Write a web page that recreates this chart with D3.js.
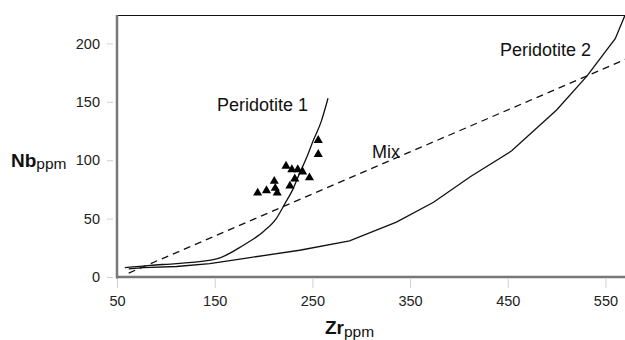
<!DOCTYPE html>
<html>
<head>
<meta charset="utf-8">
<script src="https://cdn.jsdelivr.net/npm/d3@7"></script>
<style>
  body { margin: 0; background: #fff; }
  text { font-family: Arial, "Liberation Sans", sans-serif; }
</style>
</head>
<body>
<svg id="chart"></svg>
<script>
// readings
const xTicks = [50, 150, 250, 350, 450, 550];
const yTicks = [0, 50, 100, 150, 200];

const peridotite1 = [
  [58, 8], [84, 10], [111, 11.5], [152, 15.5], [179, 27], [200, 39],
  [213, 50], [222, 63], [230, 75], [236, 87], [244, 102], [251, 117],
  [259, 133], [266, 153]
];
const peridotite2 = [
  [62, 7], [77, 8], [111, 9], [145, 11.5], [186, 16.6], [237, 22.9],
  [288, 31], [336, 47], [374, 64], [412, 86], [454, 108], [500, 143],
  [531, 172], [560, 204], [570, 224]
];
const mixLine = [[62, 3.4], [575, 188]];

const samples = [
  [194, 72], [203, 74], [211, 82], [212, 76], [214, 72], [223, 95],
  [229, 92], [235, 92], [232, 84], [227, 78], [240, 90], [247, 85],
  [256, 117], [256, 105]
];

const labels = [
  { text: "Peridotite 1", x: 217, y: 111 },
  { text: "Peridotite 2", x: 500, y: 56 },
  { text: "Mix", x: 372, y: 158 }
];

const W = 625, H = 340;
const margin = { top: 15, right: 0, bottom: 63, left: 117 };
const width = W - margin.left - margin.right;
const height = H - margin.top - margin.bottom;

const svg = d3.select("#chart").attr("width", W).attr("height", H);

const x = d3.scaleLinear().domain([50, 570]).range([margin.left, margin.left + width]);
const y = d3.scaleLinear().domain([0, 224.3]).range([margin.top + height, margin.top]);

svg.append("defs").append("clipPath").attr("id", "plot")
  .append("rect")
  .attr("x", margin.left).attr("y", margin.top)
  .attr("width", width).attr("height", height);

// tick marks sit outside the box, light grey
const xAxis = svg.append("g")
  .attr("transform", `translate(0,${margin.top + height + 2})`)
  .call(d3.axisBottom(x).tickValues(xTicks).tickSize(9).tickPadding(8).tickFormat(d3.format("d")));
const yAxis = svg.append("g")
  .attr("transform", `translate(${margin.left - 4},0)`)
  .call(d3.axisLeft(y).tickValues(yTicks).tickSize(6).tickPadding(7).tickFormat(d3.format("d")));

[xAxis, yAxis].forEach(a => {
  a.select(".domain").remove();
  a.selectAll(".tick line").attr("stroke", "#d0d0d0");
  a.selectAll(".tick text")
    .attr("fill", "#222")
    .style("font-size", "14.5px")
    .style("font-family", "Arial, 'Liberation Sans', sans-serif");
});

// frame
svg.append("line")
  .attr("x1", margin.left).attr("x2", W)
  .attr("y1", margin.top + 0.5).attr("y2", margin.top + 0.5)
  .attr("stroke", "#111").attr("stroke-width", 1.2);
svg.append("line")
  .attr("x1", margin.left).attr("x2", margin.left)
  .attr("y1", margin.top).attr("y2", margin.top + height + 1.5)
  .attr("stroke", "#777").attr("stroke-width", 2.5);
svg.append("line")
  .attr("x1", margin.left - 1).attr("x2", W)
  .attr("y1", margin.top + height).attr("y2", margin.top + height)
  .attr("stroke", "#777").attr("stroke-width", 2.5);

const straight = d3.line().x(d => x(d[0])).y(d => y(d[1]));
const smooth = d3.line().x(d => x(d[0])).y(d => y(d[1])).curve(d3.curveMonotoneX);
const plot = svg.append("g").attr("clip-path", "url(#plot)");

plot.append("path").datum(peridotite1)
  .attr("d", smooth)
  .attr("fill", "none").attr("stroke", "#111").attr("stroke-width", 1.3);
plot.append("path").datum(peridotite2)
  .attr("d", straight)
  .attr("fill", "none").attr("stroke", "#111").attr("stroke-width", 1.3);
plot.append("path").datum(mixLine)
  .attr("d", straight)
  .attr("fill", "none").attr("stroke", "#111").attr("stroke-width", 1.3)
  .attr("stroke-dasharray", "7,5");

plot.selectAll(".pt").data(samples).join("path")
  .attr("class", "pt")
  .attr("transform", d => `translate(${x(d[0])},${y(d[1])})`)
  .attr("d", d3.symbol(d3.symbolTriangle, 36))
  .attr("fill", "#000");

svg.selectAll(".lbl").data(labels).join("text")
  .attr("class", "lbl")
  .attr("x", d => d.x).attr("y", d => d.y)
  .attr("fill", "#111")
  .style("font-size", "18px")
  .text(d => d.text);

// axis titles with subscript
const yt = svg.append("text").attr("x", 11).attr("y", 167).attr("fill", "#111");
yt.append("tspan").style("font-size", "19px").style("font-weight", "bold").text("Nb");
yt.append("tspan").attr("dy", 2).style("font-size", "15.5px").text("ppm");

const xt = svg.append("text").attr("x", 325).attr("y", 334).attr("fill", "#111");
xt.append("tspan").style("font-size", "19px").style("font-weight", "bold").text("Zr");
xt.append("tspan").attr("dy", 3).style("font-size", "15.5px").text("ppm");
</script>
</body>
</html>
